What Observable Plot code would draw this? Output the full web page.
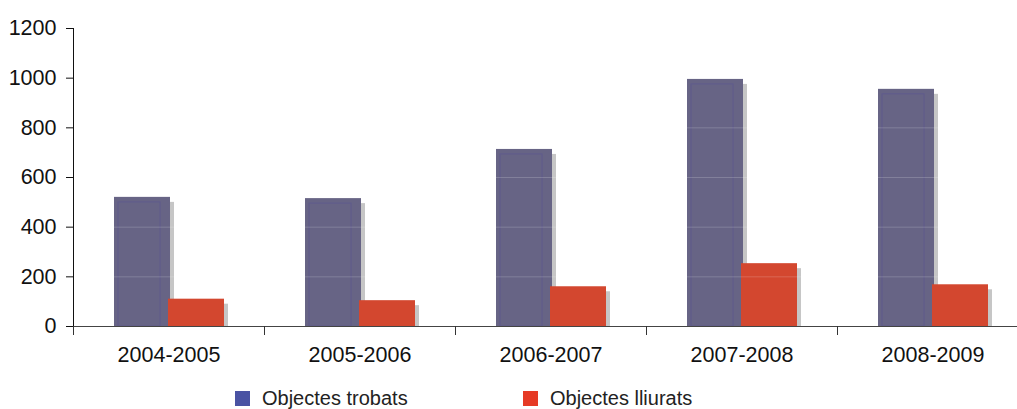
<!DOCTYPE html>
<html>
<head>
<meta charset="utf-8">
<script src="https://cdn.jsdelivr.net/npm/d3@7"></script>
<script src="https://cdn.jsdelivr.net/npm/@observablehq/plot@0.6"></script>
<style>
  html, body { margin: 0; padding: 0; background: #fff; }
  #chart { width: 1017px; height: 409px; position: relative; overflow: hidden; font-family: "Liberation Sans", Arial, sans-serif; }
  #chart svg { display: block; }
  .legend { position: absolute; top: 387px; left: 0; width: 1017px; height: 26px; font-size: 20px; color: #222; }
  .legend .item { position: absolute; top: 0; display: flex; align-items: center; white-space: nowrap; }
  .legend .sw { width: 15px; height: 15px; margin-right: 12px; display: inline-block; }
</style>
</head>
<body>
<div id="chart"></div>
<script>
const categories = ["2004-2005", "2005-2006", "2006-2007", "2007-2008", "2008-2009"];
const trobats = [520, 515, 713, 995, 955];
const lliurats = [110, 104, 160, 253, 168];
const yTicks = [0, 200, 400, 600, 800, 1000, 1200];
const seriesNames = ["Objectes trobats", "Objectes lliurats"];

const rowsT = categories.map((c, i) => ({cat: c, v: trobats[i]}));
const rowsL = categories.map((c, i) => ({cat: c, v: lliurats[i]}));

const blue = "#676485", red = "#D3472F", shadow = "#C6C6C6";

const plot = Plot.plot({
  width: 1017,
  height: 372,
  marginTop: 28,
  marginBottom: 46,
  marginLeft: 73,
  marginRight: 0,
  style: {fontFamily: "Liberation Sans, Arial, sans-serif", fontSize: "21px", color: "#111", background: "#fff", overflow: "visible"},
  x: {type: "band", domain: categories, range: [73, 1028], padding: 0, round: false},
  y: {domain: [0, 1200], range: [326, 28]},
  marks: [
    // shadows
    Plot.barY(rowsT, {x: "cat", y: "v", fill: shadow, insetLeft: 41, insetRight: 94, insetTop: 5, dx: 4}),
    Plot.barY(rowsL, {x: "cat", y: "v", fill: shadow, insetLeft: 95, insetRight: 40, insetTop: 5, dx: 4}),
    // bars
    Plot.barY(rowsT, {x: "cat", y: "v", fill: blue, insetLeft: 41, insetRight: 94}),
    Plot.barY(rowsT, {x: "cat", y: "v", fill: "none", stroke: "#5b5790", strokeOpacity: 0.7, strokeWidth: 1, insetLeft: 45, insetRight: 104, insetTop: 5}),
    Plot.barY(rowsL, {x: "cat", y: "v", fill: red, insetLeft: 95, insetRight: 40}),
    // faint grid showing over bars
    Plot.ruleY(yTicks.slice(1), {stroke: "#ffffff", strokeOpacity: 0.18}),
    // axes
    Plot.axisY({ticks: yTicks, tickSize: 7, tickPadding: 10, tickFormat: d => String(d), fontSize: 21.5, label: null, stroke: "#111", color: "#111"}),
    Plot.frame({anchor: "left", stroke: "#111"}),
    Plot.ruleY([0], {stroke: "#444", strokeWidth: 1.2}),
    Plot.axisX({tickSize: 9, tickFormat: () => "", dx: -95.5, label: null, stroke: "#333"}),
    Plot.axisX({tickSize: 0, tickPadding: 20, fontSize: 21.5, label: null, color: "#111"})
  ]
});

const chart = document.getElementById("chart");
chart.appendChild(plot);

const legend = document.createElement("div");
legend.className = "legend";
const legendColors = ["#4A53A3", "#E63A25"];
const legendX = [235, 523];
seriesNames.forEach((name, i) => {
  const item = document.createElement("div");
  item.className = "item";
  item.style.left = legendX[i] + "px";
  const sw = document.createElement("span");
  sw.className = "sw";
  sw.style.background = legendColors[i];
  const t = document.createElement("span");
  t.textContent = name;
  item.appendChild(sw);
  item.appendChild(t);
  legend.appendChild(item);
});
chart.appendChild(legend);
</script>
</body>
</html>
